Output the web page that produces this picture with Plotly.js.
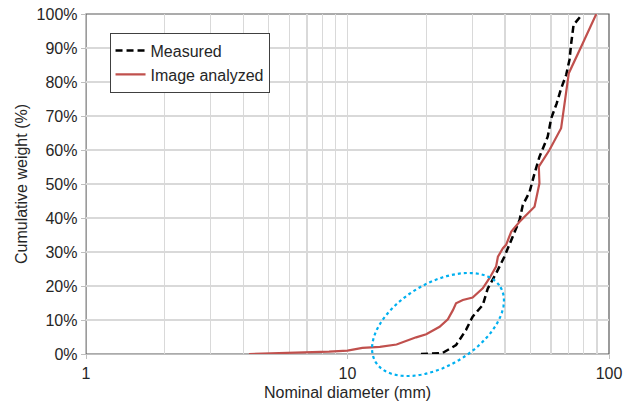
<!DOCTYPE html>
<html>
<head>
<meta charset="utf-8">
<script src="https://cdn.plot.ly/plotly-3.0.1.min.js"></script>
<style>html,body{margin:0;padding:0;background:#fff;}#chart{width:630px;height:404px;}</style>
</head>
<body>
<div id="chart"></div>
<script>
// Measured (dashed black)
var measuredDiameter = [19.1, 23.1, 26.0, 28.4, 30.1, 32.9, 34.4, 37.0, 39.8, 42.3, 44.2, 45.5, 46.8, 49.7, 51.9, 54.2, 58.3, 60.1, 63.1, 65.6, 68.6, 70.6, 71.7, 73.2, 77.6, 79.0];
var measuredWeight   = [0.000, 0.003, 0.026, 0.071, 0.110, 0.144, 0.193, 0.237, 0.286, 0.335, 0.365, 0.394, 0.438, 0.477, 0.531, 0.580, 0.639, 0.693, 0.737, 0.781, 0.821, 0.865, 0.914, 0.968, 0.992, 1.000];

// Image analyzed (solid red)
var imageDiameter = [4.2, 6.0, 8.5, 10.0, 11.4, 13.3, 15.4, 18.3, 20.0, 22.5, 24.2, 25.3, 26.0, 27.6, 30.1, 32.9, 34.9, 37.0, 37.6, 39.3, 40.4, 42.3, 45.5, 51.9, 54.2, 53.9, 59.2, 65.6, 67.6, 70.2, 79.4, 89.4];
var imageWeight   = [0.000, 0.003, 0.007, 0.010, 0.018, 0.021, 0.028, 0.049, 0.058, 0.080, 0.102, 0.129, 0.149, 0.159, 0.166, 0.193, 0.223, 0.257, 0.286, 0.311, 0.321, 0.360, 0.389, 0.433, 0.502, 0.551, 0.600, 0.664, 0.737, 0.826, 0.914, 1.000];

var xTickVals = [1, 10, 100];
var xTickText = ["1", "10", "100"];
var yTickVals = [0, 0.1, 0.2, 0.3, 0.4, 0.5, 0.6, 0.7, 0.8, 0.9, 1.0];

var W = 630, H = 404;
var M = {l: 86, r: 21, t: 14, b: 50};
var pw = W - M.l - M.r, ph = H - M.t - M.b;

// Highlight ellipse (rotated), defined in pixels then converted to paper coords
function ellipsePath(cx, cy, a, b, angDeg) {
  var al = angDeg * Math.PI / 180, pts = [];
  for (var i = 0; i <= 96; i++) {
    var t = 2 * Math.PI * i / 96;
    var px = cx + a * Math.cos(t) * Math.cos(al) + b * Math.sin(t) * Math.sin(al);
    var py = cy - a * Math.cos(t) * Math.sin(al) + b * Math.sin(t) * Math.cos(al);
    var xp = (px - M.l) / pw, yp = (H - M.b - py) / ph;
    pts.push((i ? 'L' : 'M') + xp.toFixed(5) + ',' + yp.toFixed(5));
  }
  return pts.join(' ') + ' Z';
}

var font = {family: '"Liberation Sans", Arial, sans-serif', size: 16, color: '#262626'};

var traces = [
  {x: measuredDiameter, y: measuredWeight, type: 'scatter', mode: 'lines', name: 'Measured',
   line: {color: '#000000', width: 2.5, dash: '7px,4px'}},
  {x: imageDiameter, y: imageWeight, type: 'scatter', mode: 'lines', name: 'Image analyzed',
   line: {color: '#c0504d', width: 2.2}}
];

var layout = {
  width: W, height: H,
  margin: M,
  paper_bgcolor: '#ffffff', plot_bgcolor: '#ffffff',
  font: font,
  showlegend: true,
  legend: {x: 0.045, y: 0.945, xanchor: 'left', yanchor: 'top', bgcolor: '#ffffff',
           bordercolor: '#404040', borderwidth: 1, font: font, itemwidth: 30, tracegroupgap: 0},
  xaxis: {type: 'log', range: [0, 2], tickvals: xTickVals, ticktext: xTickText,
          showgrid: true, gridcolor: '#d9d9d9', gridwidth: 1.3,
          minor: {dtick: 'D1', showgrid: true, gridcolor: '#d9d9d9', gridwidth: 1.3, ticks: ''},
          ticks: 'outside', ticklen: 4, tickcolor: '#bfbfbf',
          showline: true, linecolor: '#bfbfbf', linewidth: 1.3, zeroline: false,
          tickfont: font,
          title: {text: 'Nominal diameter (mm)', font: font, standoff: 6}},
  yaxis: {range: [0, 1], tickvals: yTickVals, tickformat: '.0%',
          showgrid: true, gridcolor: '#d9d9d9', gridwidth: 1.3,
          ticks: 'outside', ticklen: 4, tickcolor: '#bfbfbf',
          showline: true, linecolor: '#bfbfbf', linewidth: 1.3, zeroline: false,
          tickfont: font,
          title: {text: 'Cumulative weight (%)', font: font, standoff: 5}},
  shapes: [
    {type: 'rect', xref: 'paper', yref: 'paper', x0: 0, x1: 1, y0: 0, y1: 1,
     line: {color: '#595959', width: 1.2}, layer: 'below'},
    {type: 'path', xref: 'paper', yref: 'paper', path: ellipsePath(438, 324.5, 72.8, 41.3, 30.9),
     line: {color: '#00b0f0', width: 2.2, dash: 'dot'}, layer: 'above'}
  ]
};

Plotly.newPlot('chart', traces, layout, {staticPlot: true, displayModeBar: false});
</script>
</body>
</html>
